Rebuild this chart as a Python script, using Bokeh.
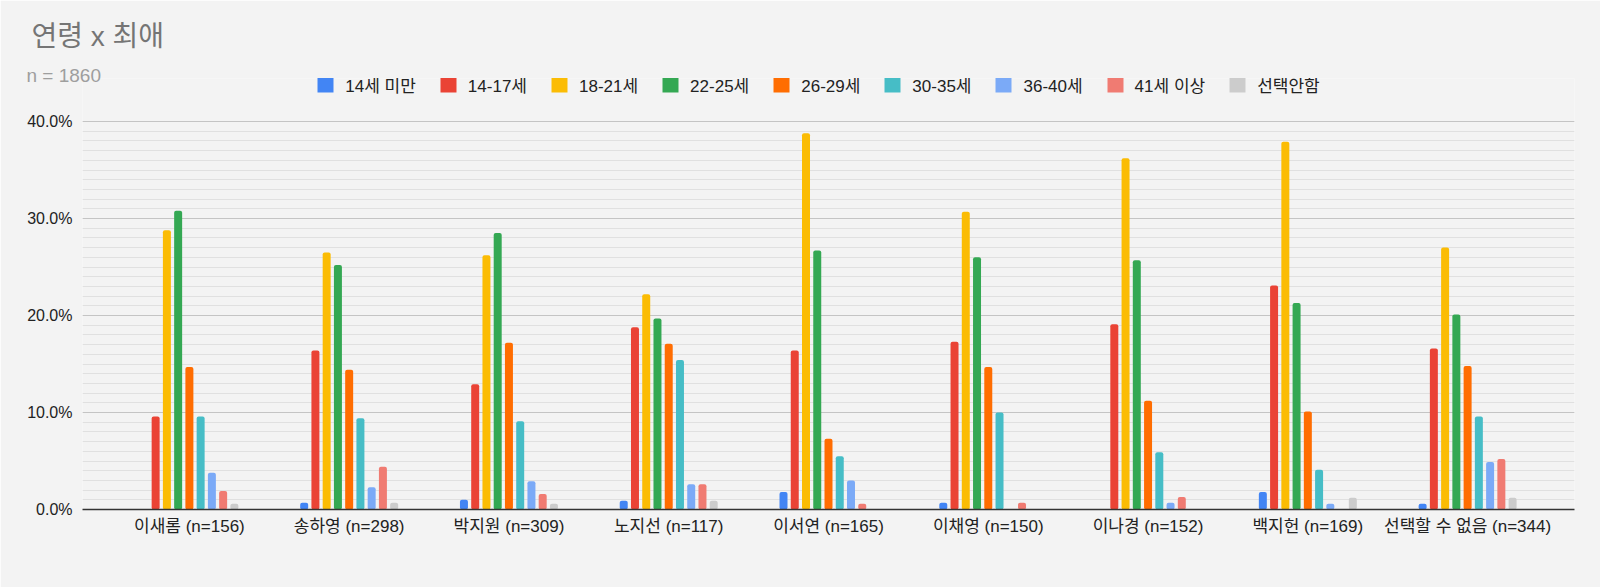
from bokeh.plotting import figure
from bokeh.models import (Range1d, FixedTicker, SingleIntervalTicker, PrintfTickFormatter,
                          Legend, LegendItem, Title, ColumnDataSource)
from bokeh.transform import dodge
from bokeh.embed import file_html
from bokeh.resources import INLINE

# ---- data (percent of respondents per favourite, by age group) ----
groups = ["이새롬 (n=156)", "송하영 (n=298)", "박지원 (n=309)", "노지선 (n=117)",
          "이서연 (n=165)", "이채영 (n=150)", "이나경 (n=152)", "백지헌 (n=169)",
          "선택할 수 없음 (n=344)"]
ages = ["14세 미만", "14-17세", "18-21세", "22-25세", "26-29세",
        "30-35세", "36-40세", "41세 이상", "선택안함"]

under14   = [0.0, 0.7, 1.0, 0.9, 1.8, 0.7, 0.0, 1.8, 0.6]
age14_17  = [9.6, 16.4, 12.9, 18.8, 16.4, 17.3, 19.1, 23.1, 16.6]
age18_21  = [28.8, 26.5, 26.2, 22.2, 38.8, 30.7, 36.2, 37.9, 27.0]
age22_25  = [30.8, 25.2, 28.5, 19.7, 26.7, 26.0, 25.7, 21.3, 20.1]
age26_29  = [14.7, 14.4, 17.2, 17.1, 7.3, 14.7, 11.2, 10.1, 14.8]
age30_35  = [9.6, 9.4, 9.1, 15.4, 5.5, 10.0, 5.9, 4.1, 9.6]
age36_40  = [3.8, 2.3, 2.9, 2.6, 3.0, 0.0, 0.7, 0.6, 4.9]
age41_up  = [1.9, 4.4, 1.6, 2.6, 0.6, 0.7, 1.3, 0.0, 5.2]
no_answer = [0.6, 0.7, 0.6, 0.9, 0.0, 0.0, 0.0, 1.2, 1.2]

series = [under14, age14_17, age18_21, age22_25, age26_29,
          age30_35, age36_40, age41_up, no_answer]
colors = ["#4285F4", "#EA4335", "#FBBC04", "#34A853", "#FF6D01",
          "#46BDC6", "#7BAAF7", "#F07B72", "#CCCCCC"]

title_text = "연령 x 최애"
subtitle_text = "n = 1860"
y_max = 40

FONT = "'Liberation Sans', 'Noto Sans CJK KR', sans-serif"
BG = "#f3f3f3"

data = {"idx": list(range(len(groups)))}
for k, s in enumerate(series):
    data["s%d" % k] = s
source = ColumnDataSource(data)

# frame is extended upward so the legend sits inside it; grid/axis bounded to 0..40
p = figure(width=1600, height=587, output_backend="svg", toolbar_location=None,
           x_range=Range1d(-0.669, 8.669), y_range=Range1d(0, 44.433),
           min_border_left=82, min_border_right=26, min_border_top=78,
           min_border_bottom=78,
           background_fill_color=BG, border_fill_color=BG, outline_line_color=None)

step = 0.0704
bar_w = 0.050
renderers = []
for k, col in enumerate(colors):
    r = p.vbar(x=dodge("idx", (k - 4) * step, range=p.x_range), top="s%d" % k,
               width=bar_w, bottom=0, source=source, fill_color=col,
               line_color=None, border_radius=2)
    renderers.append(r)

# y axis
p.yaxis.ticker = SingleIntervalTicker(interval=10, num_minor_ticks=10)
p.yaxis.formatter = PrintfTickFormatter(format="%.1f%%")
p.yaxis.bounds = (0, y_max)
p.yaxis.axis_line_color = None
p.yaxis.major_tick_line_color = None
p.yaxis.minor_tick_line_color = None
p.yaxis.major_tick_out = 0
p.yaxis.minor_tick_out = 0
p.yaxis.major_label_text_font_size = "16px"
p.yaxis.major_label_text_color = "#222222"
p.yaxis.major_label_text_font = FONT
p.yaxis.major_label_standoff = 10

# x axis
p.xaxis.ticker = FixedTicker(ticks=list(range(len(groups))))
p.xaxis.major_label_overrides = {i: g for i, g in enumerate(groups)}
p.xaxis.axis_line_color = "#333333"
p.xaxis.axis_line_width = 1.5
p.xaxis.major_tick_line_color = None
p.xaxis.minor_tick_line_color = None
p.xaxis.major_tick_out = 0
p.xaxis.minor_tick_out = 0
p.xaxis.major_label_text_font_size = "17px"
p.xaxis.major_label_text_color = "#222222"
p.xaxis.major_label_text_font = FONT
p.xaxis.major_label_standoff = 7

# grid
p.xgrid.grid_line_color = None
p.ygrid.bounds = (0, y_max)
p.ygrid.grid_line_color = "#c4c4c4"
p.ygrid.minor_grid_line_color = "#e0e0e0"

# legend inside the (extended) frame
items = [LegendItem(label=a, renderers=[r]) for a, r in zip(ages, renderers)]
legend = Legend(items=items, orientation="horizontal", location=(233.3, 412.3),
                glyph_width=20, glyph_height=20, label_standoff=10, spacing=22,
                padding=0, margin=0, border_line_color=None, background_fill_alpha=0,
                label_text_font_size="17px", label_text_color="#222222",
                label_text_font=FONT, label_height=18)
p.add_layout(legend)

# subtitle
p.add_layout(Title(text=subtitle_text, align="left", offset=-56, standoff=-14,
                   text_font_size="19px", text_color="#9e9e9e",
                   text_font_style="normal", text_font=FONT), "above")

# main title
p.title.text = title_text
p.title.align = "left"
p.title.offset = -51
p.title.standoff = 35
p.title.text_font_size = "28px"
p.title.text_color = "#757575"
p.title.text_font_style = "normal"
p.title.text_font = FONT

open("out.html", "w").write(file_html(p, INLINE))
